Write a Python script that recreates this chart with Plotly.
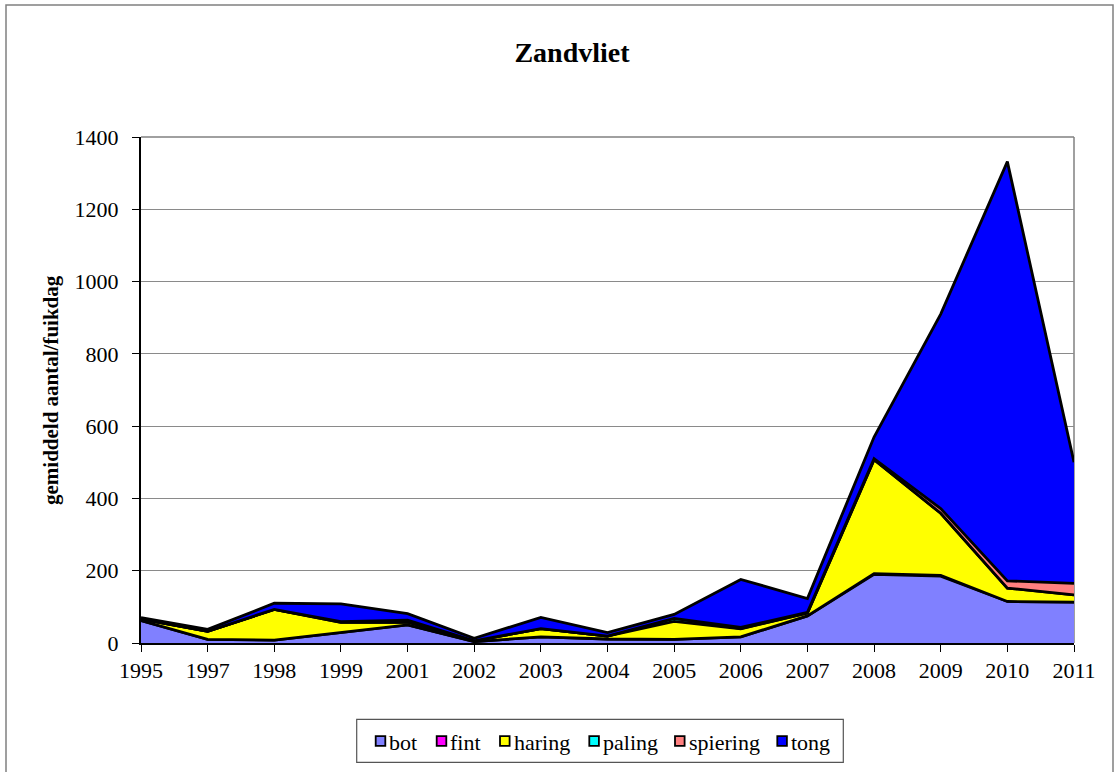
import plotly.graph_objects as go

years = ["1995", "1997", "1998", "1999", "2001", "2002", "2003", "2004",
         "2005", "2006", "2007", "2008", "2009", "2010", "2011"]
bot = [62, 10, 8, 30, 50, 4, 17, 11, 10, 17, 75, 190, 185, 115, 113]
fint = [0, 0, 0, 0, 0, 0, 0, 0, 0, 0, 0, 2, 2, 0, 0]
haring = [4, 22, 85, 27, 8, 2, 23, 8, 50, 22, 8, 315, 172, 37, 20]
paling = [0, 0, 0, 0, 0, 0, 0, 0, 8, 1, 0, 0, 0, 0, 0]
spiering = [0, 0, 0, 2, 5, 0, 0, 0, 0, 3, 2, 3, 13, 20, 32]
tong = [4, 6, 17, 49, 18, 7, 31, 10, 11, 133, 38, 60, 538, 1160, 335]

names = ["bot", "fint", "haring", "paling", "spiering", "tong"]
values = [bot, fint, haring, paling, spiering, tong]
colors = ["#8080FF", "#FF00FF", "#FFFF00", "#00FFFF", "#FF8080", "#0000FF"]

FONT = "Liberation Serif"

# plot-area geometry in pixels (for placing decorations)
L, R, T, B = 141, 1074, 137, 643
W, H = 1115, 772


def px(x):
    return (x - L) / (R - L)


def py(y):
    return (B - y) / (B - T)


fig = go.Figure()
for name, vals, col in zip(names, values, colors):
    fig.add_trace(go.Scatter(
        x=years, y=vals, name=name, stackgroup="one", mode="lines",
        line=dict(color="black", width=2.8), fillcolor=col,
        showlegend=False, hoverinfo="x+y+name"))

# manual legend (box, squares, labels) positioned as in the original
legend_sq_left = [375.7, 436.7, 500.0, 589.3, 675.0, 777.3]
sq = 9.6
leg_y = 741
shapes = [
    dict(type="line", xref="paper", yref="paper", x0=0, x1=1, y0=1, y1=1,
         line=dict(color="#808080", width=1.5), layer="below"),
    dict(type="line", xref="paper", yref="paper", x0=1, x1=1, y0=0, y1=1,
         line=dict(color="#808080", width=1.5), layer="below"),
    dict(type="rect", xref="paper", yref="paper",
         x0=px(6), x1=px(1113), y0=py(776), y1=py(5),
         line=dict(color="#808080", width=1.5)),
    dict(type="rect", xref="paper", yref="paper",
         x0=px(356.7), x1=px(843.3), y0=py(762.3), y1=py(719.3),
         line=dict(color="#555555", width=1.2), fillcolor="white"),
]
annotations = [
    dict(text="<b>gemiddeld aantal/fuikdag</b>", textangle=-90,
         xref="paper", yref="paper", x=px(51), y=0.5,
         xanchor="center", yanchor="middle", showarrow=False,
         font=dict(family=FONT, size=21, color="black")),
]
for name, col, x0 in zip(names, colors, legend_sq_left):
    shapes.append(dict(type="rect", xref="paper", yref="paper",
                       x0=px(x0), x1=px(x0 + sq),
                       y0=py(leg_y + sq / 2), y1=py(leg_y - sq / 2),
                       fillcolor=col, line=dict(color="black", width=1.8)))
    annotations.append(dict(text=name, xref="paper", yref="paper",
                            x=px(x0 + sq + 2), y=py(leg_y + 1),
                            xanchor="left", yanchor="middle", showarrow=False,
                            font=dict(family=FONT, size=22, color="black")))

fig.update_layout(
    width=W, height=H,
    margin=dict(l=L, r=W - R, t=T, b=H - B),
    paper_bgcolor="white", plot_bgcolor="white",
    font=dict(family=FONT, size=22, color="black"),
    title=dict(text="<b>Zandvliet</b>", x=572 / W, xanchor="center",
               y=1 - 52 / H, yanchor="middle", yref="container",
               font=dict(family=FONT, size=28, color="black")),
    showlegend=False,
    xaxis=dict(type="category", range=[0, 14], showgrid=False,
               showline=True, linecolor="black", linewidth=2,
               ticks="outside", ticklen=7, tickcolor="black", tickwidth=1,
               tickfont=dict(family=FONT, size=22, color="black"),
               fixedrange=True),
    yaxis=dict(range=[0, 1400], dtick=200, showgrid=True,
               gridcolor="#8a8a8a", gridwidth=1,
               showline=True, linecolor="black", linewidth=2,
               ticks="outside", ticklen=7, tickcolor="black", tickwidth=1,
               tickfont=dict(family=FONT, size=22, color="black"),
               ticklabelstandoff=9, zeroline=False, fixedrange=True),
    annotations=annotations,
    shapes=shapes,
)

fig.write_html("out.html",
               config={"displayModeBar": False},
               post_script="document.body.style.margin='0';"
                           "document.body.style.overflow='hidden';")
